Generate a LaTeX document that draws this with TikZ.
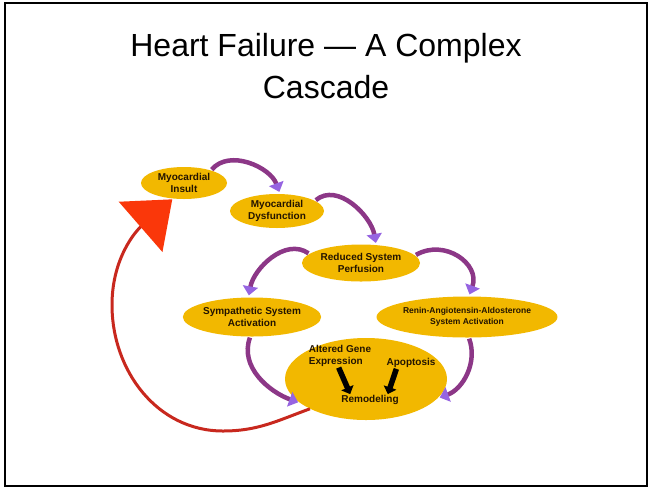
\documentclass[tikz,border=0pt]{standalone}
\usepackage{fontspec}
\setmainfont{Liberation Sans}
\usetikzlibrary{shapes.geometric,arrows.meta}
\definecolor{gold}{RGB}{242,184,0}
\definecolor{plum}{RGB}{140,55,135}
\definecolor{violet}{RGB}{150,100,225}
\definecolor{darkred}{RGB}{200,40,30}
\definecolor{brightred}{RGB}{250,55,10}
\definecolor{ink}{RGB}{35,20,0}
\begin{document}
\begin{tikzpicture}[x=1pt,y=-1pt,
  stage/.style={ellipse,fill=gold,inner sep=0pt,align=center,text=ink,
    font=\fontsize{10}{11.5}\selectfont\bfseries},
  cyclearrow/.style={line width=4.5pt,plum,shorten >=2pt,shorten <=1pt,
    -{Triangle[length=9pt,width=15pt,color=violet]}},
  blackarrow/.style={line width=5.5pt,black,
    -{Triangle[length=7pt,width=13pt]}},
  redarrow/.style={line width=3pt,darkred,shorten >=1pt,
    -{Triangle[length=42pt,width=66pt,color=brightred]}},
  inner/.style={inner sep=1pt,text=ink,font=\fontsize{10}{11.5}\selectfont\bfseries}]
\useasboundingbox (0,0) rectangle (652,488);
\draw[line width=2.5pt] (5,3) rectangle (647,486);
\node[align=center,font=\fontsize{32}{42}\selectfont] (title) at (326,66)
  {Heart Failure --- A Complex\\Cascade};
% the cycle
\node[stage,minimum width=86pt,minimum height=32pt] (insult) at (184,183) {Myocardial\\Insult};
\node[stage,minimum width=94pt,minimum height=34pt] (dysf) at (277,211) {Myocardial\\Dysfunction};
\node[stage,minimum width=118pt,minimum height=37pt] (reduced) at (361,263) {Reduced System\\Perfusion};
\node[stage,minimum width=130pt,minimum height=39pt] (symp) at (252,317) {Sympathetic System\\Activation};
\node[stage,minimum width=158pt,minimum height=41pt,
  font=\fontsize{8.5}{10.5}\selectfont\bfseries] (raas) at (467,317)
  {Renin-Angiotensin-Aldosterone\\System Activation};
\node[stage,minimum width=162pt,minimum height=82pt] (big) at (366,379) {};
\node[inner,align=left] (gene) at (340,356) {Altered Gene\\Expression};
\node[inner] (apop) at (411,363) {Apoptosis};
\node[inner] (remod) at (370,400) {Remodeling};
\draw[blackarrow] ([xshift=31pt]gene.south west) -- ([xshift=10pt]remod.north west);
\draw[blackarrow] ([xshift=11pt]apop.south west) -- ([xshift=-12pt]remod.north east);
\draw[cyclearrow] (insult.25) to[out=50,in=110] (dysf.80);
\draw[cyclearrow] (dysf.15) to[out=40,in=100] (reduced.50);
\draw[cyclearrow] (reduced.170) to[out=145,in=80] (symp.100);
\draw[cyclearrow] (reduced.8) to[out=30,in=70,looseness=1.3] (raas.85);
\draw[cyclearrow] (symp.265) to[out=250,in=160] (big.200);
\draw[cyclearrow] (raas.275) to[out=290,in=20] (big.345);
% back to the start
\draw[redarrow] (big.208) to[out=200,in=0] (223,431) to[out=180,in=270] (112,305)
  to[out=90,in=221] (insult.235);
\end{tikzpicture}
\end{document}
